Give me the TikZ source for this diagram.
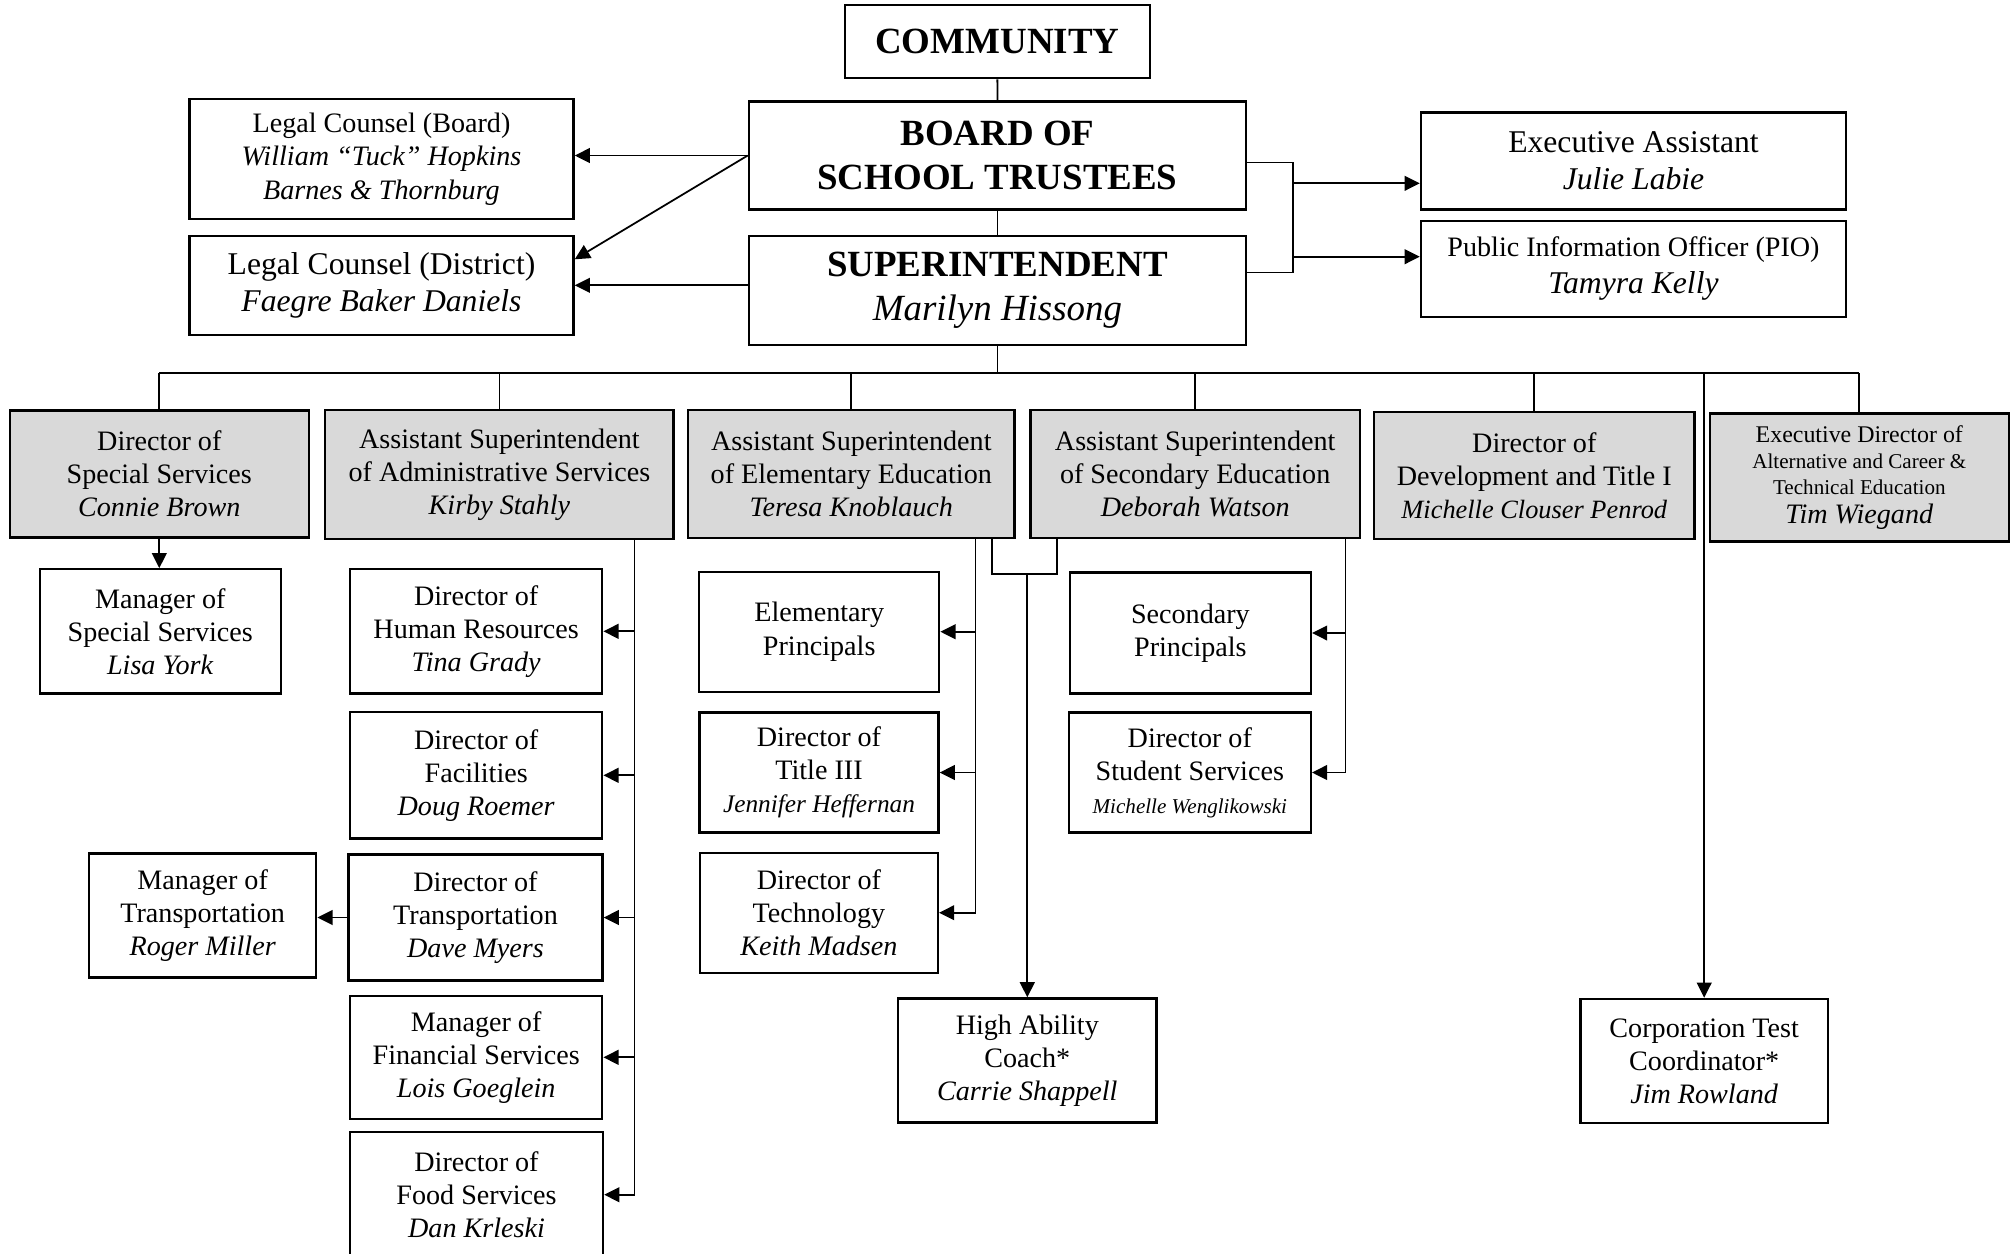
\documentclass[tikz,border=0pt]{standalone}
\usepackage{fontspec}
\setmainfont{Liberation Serif}
\usetikzlibrary{arrows.meta}
\definecolor{boxgray}{gray}{.85}

\begin{document}
\begin{tikzpicture}[x=0.01cm,y=-0.01cm,line width=0.5pt,
  >={Triangle[length=4.3pt,width=4.2pt]},
  box/.style={draw,line width=0.65pt,align=center,inner sep=0pt,font=\fontsize{8}{9.4}\selectfont},
  gbox/.style={box,fill=boxgray},
  big/.style={box,font=\fontsize{10.5}{12.4}\selectfont\bfseries}]
\useasboundingbox (0,0) rectangle (2014,1253);
% top of the chart
\node[big,minimum width=3.05cm,minimum height=0.73cm] (com) at (997.3,41.7) {COMMUNITY};
\node[big,minimum width=4.97cm,minimum height=1.08cm] (bst) at (997.5,155.5) {BOARD OF\\SCHOOL TRUSTEES};
\node[big,minimum width=4.97cm,minimum height=1.09cm] (sup) at (997.5,290.5) {SUPERINTENDENT\\{\mdseries\itshape Marilyn Hissong}};
\node[box,minimum width=3.84cm,minimum height=1.2cm] (lcb) at (381.5,159.2) {Legal Counsel (Board)\\\textit{William “Tuck” Hopkins}\\\textit{Barnes \& Thornburg}};
\node[box,font=\fontsize{9}{10.6}\selectfont,minimum width=3.84cm,minimum height=0.99cm] (lcd) at (381.5,285.3) {Legal Counsel (District)\\\textit{Faegre Baker Daniels}};
\node[box,font=\fontsize{9}{10.6}\selectfont,minimum width=4.25cm,minimum height=0.97cm] (exa) at (1633.5,161) {Executive Assistant\\\textit{Julie Labie}};
\node[box,minimum width=4.25cm,minimum height=0.96cm] (pio) at (1633.5,268.7) {Public Information Officer (PIO)\\[1pt]{\fontsize{9}{10}\selectfont\itshape Tamyra Kelly}};
% gray row
\node[gbox,minimum width=2.99cm,minimum height=1.27cm] (dss) at (159.3,474) {Director of\\Special Services\\\textit{Connie Brown}};
\node[gbox,minimum width=3.48cm,minimum height=1.29cm] (asa) at (499.4,474.5) {Assistant Superintendent\\of Administrative Services\\\textit{Kirby Stahly}};
\node[gbox,minimum width=3.26cm,minimum height=1.28cm] (aee) at (851.3,474) {Assistant Superintendent\\of Elementary Education\\\textit{Teresa Knoblauch}};
\node[gbox,minimum width=3.29cm,minimum height=1.28cm] (ase) at (1195.2,474) {Assistant Superintendent\\of Secondary Education\\\textit{Deborah Watson}};
\node[gbox,minimum width=3.2cm,minimum height=1.27cm] (ddt) at (1534.3,475.3) {Director of\\Development and Title I\\{\fontsize{7.5}{9}\selectfont\itshape Michelle Clouser Penrod}};
\node[gbox,font=\fontsize{6}{7.4}\selectfont,minimum width=2.99cm,minimum height=1.28cm] (edc) at (1859.3,477.5) {{\fontsize{6.8}{8}\selectfont Executive Director of}\\Alternative and Career \&\\Technical Education\\[1pt]{\fontsize{8}{9}\selectfont\itshape Tim Wiegand}};
% white boxes
\node[box,minimum width=2.41cm,minimum height=1.24cm] (mss) at (160.3,631.3) {Manager of\\Special Services\\\textit{Lisa York}};
\node[box,minimum width=2.52cm,minimum height=1.24cm] (dhr) at (476.2,631.3) {Director of\\Human Resources\\\textit{Tina Grady}};
\node[box,minimum width=2.52cm,minimum height=1.26cm] (dfa) at (476.2,775.3) {Director of\\Facilities\\\textit{Doug Roemer}};
\node[box,minimum width=2.54cm,minimum height=1.26cm] (dtr) at (475.5,917.5) {Director of\\Transportation\\\textit{Dave Myers}};
\node[box,minimum width=2.27cm,minimum height=1.24cm] (mtr) at (202.7,915.5) {Manager of\\Transportation\\\textit{Roger Miller}};
\node[box,minimum width=2.52cm,minimum height=1.23cm] (mfs) at (476.2,1057.3) {Manager of\\Financial Services\\\textit{Lois Goeglein}};
\node[box,minimum width=2.53cm,minimum height=1.26cm] (dfo) at (476.5,1194.7) {Director of\\Food Services\\\textit{Dan Krleski}};
\node[box,minimum width=2.4cm,minimum height=1.2cm] (elp) at (819.2,631.7) {Elementary\\Principals};
\node[box,minimum width=2.39cm,minimum height=1.2cm] (dt3) at (819,772.5) {Director of\\Title III\\{\fontsize{7.2}{8}\selectfont\itshape Jennifer Heffernan}};
\node[box,minimum width=2.38cm,minimum height=1.2cm] (dte) at (818.9,912.7) {Director of\\Technology\\\textit{Keith Madsen}};
\node[box,minimum width=2.41cm,minimum height=1.21cm] (scp) at (1190.4,633) {Secondary\\Principals};
\node[box,minimum width=2.42cm,minimum height=1.2cm] (dst) at (1189.8,772.5) {Director of\\Student Services\\{\fontsize{6}{7}\selectfont\itshape Michelle Wenglikowski}};
\node[box,minimum width=2.58cm,minimum height=1.24cm] (hac) at (1027.3,1060.5) {High Ability\\Coach*\\\textit{Carrie Shappell}};
\node[box,minimum width=2.47cm,minimum height=1.24cm] (ctc) at (1704.2,1060.9) {Corporation Test\\Coordinator*\\\textit{Jim Rowland}};
% connectors
\coordinate (bus) at (997.5,373);
\coordinate (brk) at (1292.8,0);
\coordinate (adf) at (634.6,0);
\coordinate (elf) at (975.6,0);
\coordinate (scf) at (1345.5,0);
\coordinate (ebr) at (992.3,574);
\coordinate (sbr) at (1057,574);
\draw (com) -- (bst);
\draw (bst) -- (sup);
\draw (sup) -- (bus);
\draw (dss.north |- bus) -- (edc.north |- bus);
\foreach \n in {dss,asa,aee,ase,ddt,edc} \draw (\n.north |- bus) -- (\n.north);
\draw[->] (bst.west) -- (bst.west -| lcb.east);
\draw[->] (bst.west) -- ([yshift=0.26cm]lcd.east);
\draw[->] (sup.west |- lcd.east) -- (lcd.east);
\draw ([yshift=-0.07cm]bst.east) -| ([yshift=0.18cm]sup.east -| brk) -- ([yshift=0.18cm]sup.east);
\draw[->] ([yshift=-0.223cm]exa.west -| brk) -- ([yshift=-0.223cm]exa.west);
\draw[->] ([yshift=0.12cm]pio.west -| brk) -- ([yshift=0.12cm]pio.west);
\draw[->] (dss.south) -- (dss.south |- mss.north);
\draw (asa.south -| adf) -- (dfo.east -| adf);
\foreach \n in {dhr,dfa,dtr,mfs,dfo} \draw[->] (\n.east -| adf) -- (\n.east);
\draw[->] (dtr.west) -- (dtr.west -| mtr.east);
\draw (aee.south -| elf) -- (dte.east -| elf);
\foreach \n in {elp,dt3,dte} \draw[->] (\n.east -| elf) -- (\n.east);
\draw (aee.south -| ebr) -- (ebr) -- (sbr) -- (ase.south -| sbr);
\draw[->] (hac.north |- ebr) -- (hac.north);
\draw (ase.south -| scf) -- (dst.east -| scf);
\foreach \n in {scp,dst} \draw[->] (\n.east -| scf) -- (\n.east);
\draw[->] (ctc.north |- bus) -- (ctc.north);
\end{tikzpicture}
\end{document}
